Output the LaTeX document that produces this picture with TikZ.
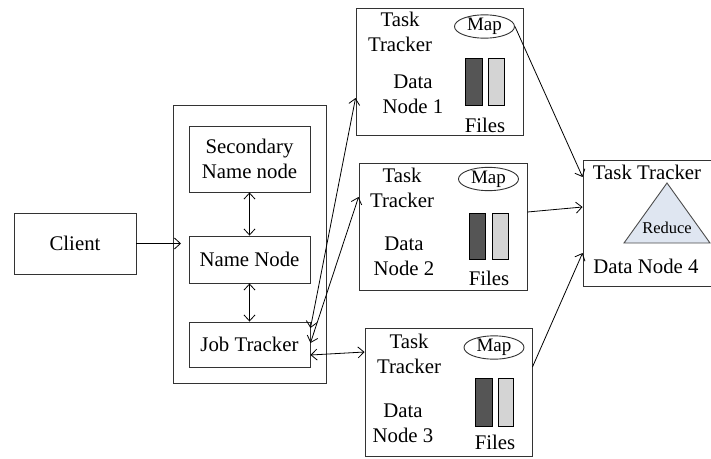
\documentclass[tikz,border=0pt]{standalone}
\usepackage{fontspec}
\setmainfont{Liberation Serif}
\usetikzlibrary{shapes.geometric,arrows.meta}
\definecolor{darkfile}{HTML}{555555}
\definecolor{lightfile}{HTML}{D4D4D4}
\definecolor{reducefill}{HTML}{DFE6F1}
\begin{document}
\begin{tikzpicture}[x=1pt,y=-1pt,>={Straight Barb[length=6pt,width=11pt]},
  box/.style={draw=black!80,line width=0.9pt,inner sep=0pt},
  txt/.style={inner sep=0pt,align=center,font=\fontsize{20.8}{25}\selectfont},
  mapbox/.style={ellipse,draw=black!80,line width=0.9pt,minimum width=60pt,minimum height=21pt,inner sep=0pt,font=\fontsize{19}{20}\selectfont},
  conn/.style={->,line width=0.8pt},
  conn2/.style={<->,line width=0.8pt}]
                \useasboundingbox (0,0) rectangle (711,458);
                \node[box,minimum width=122pt,minimum height=61pt,txt] (client) at (75,243.5) {Client};
                \node[box,minimum width=153pt,minimum height=278pt] (hdfs) at (249.5,244) {};
                \node[box,minimum width=121pt,minimum height=66pt,txt] (secnn) at (249.5,159) {Secondary\\Name node};
                \node[box,minimum width=121pt,minimum height=47pt,txt] (namenode) at (249.5,259.5) {Name Node};
                \node[box,minimum width=121pt,minimum height=45pt,txt] (jobtracker) at (249.5,344.5) {Job Tracker};
                \node[box,minimum width=167pt,minimum height=127pt] (dn1) at (439.5,71.5) {};
                \node[box,minimum width=168pt,minimum height=127pt] (dn2) at (443,226.5) {};
                \node[box,minimum width=167pt,minimum height=128pt] (dn3) at (448.5,392) {};
                \node[box,minimum width=133pt,minimum height=126pt] (dn4) at (649.5,223) {};
                \node[txt] (tt1) at (400,32) {Task\\Tracker};
                \node[txt] (tt2) at (402,188) {Task\\Tracker};
                \node[txt] (tt3) at (409,354) {Task\\Tracker};
                \node[txt] (tt4) at (647,172) {Task Tracker};
                \node[txt] (data1) at (413,94) {Data\\Node 1};
                \node[txt] (data2) at (404,256) {Data\\Node 2};
                \node[txt] (data3) at (403,423) {Data\\Node 3};
                \node[txt] (data4) at (646,266) {Data Node 4};
                \node[mapbox] (map1) at (484.5,26.5) {Map};
                \node[mapbox] (map2) at (488.5,179) {Map};
                \node[mapbox] (map3) at (494,347.5) {Map};
                \draw[line width=0.9pt,fill=darkfile] (465,58) rectangle (482,105);
                \draw[line width=0.9pt,fill=lightfile] (488,58) rectangle (504,105);
                \draw[line width=0.9pt,fill=darkfile] (469,213) rectangle (485,259);
                \draw[line width=0.9pt,fill=lightfile] (492,213) rectangle (508,259);
                \draw[line width=0.9pt,fill=darkfile] (475,378) rectangle (492,426);
                \draw[line width=0.9pt,fill=lightfile] (498,378) rectangle (513,426);
                \node[txt] (files1) at (485,125) {Files};
                \node[txt] (files2) at (489,278) {Files};
                \node[txt] (files3) at (495,442) {Files};
                \draw[draw=black!70,line width=0.9pt,fill=reducefill] (624,243) -- (667,183) -- (710,243) -- cycle;
                \node[inner sep=0pt,font=\fontsize{16.5}{18}\selectfont] (reduce) at (667,228) {Reduce};
                \coordinate (cin) at (181,243.5);
                \draw[conn] (client.east) -- (cin);
                \draw[conn2] (secnn.south) -- (namenode.north);
                \draw[conn2] (namenode.south) -- (jobtracker.north);
                \draw[conn2] ([yshift=16.5pt]jobtracker.east) -- ([yshift=-26.5pt]dn1.west);
                \draw[conn2] ([yshift=1.5pt]jobtracker.east) -- ([yshift=29.5pt]dn2.west);
                \draw[conn2] ([yshift=-10.5pt]jobtracker.east) -- ([yshift=40pt]dn3.west);
                \draw[conn] (map1.east) -- ([yshift=46pt]dn4.west);
                \draw[conn] ([yshift=14.5pt]dn2.east) -- ([yshift=16pt]dn4.west);
                \draw[conn] ([yshift=25pt]dn3.east) -- ([yshift=-30pt]dn4.west);
\end{tikzpicture}
\end{document}
